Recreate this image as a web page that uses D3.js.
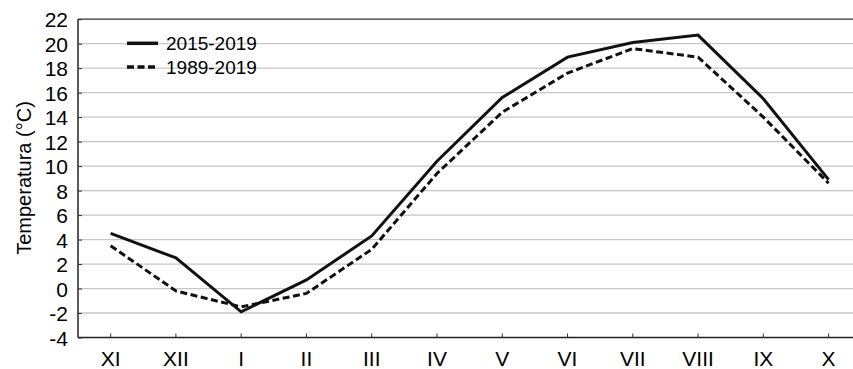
<!DOCTYPE html>
<html>
<head>
<meta charset="utf-8">
<script src="https://cdn.jsdelivr.net/npm/d3@7"></script>
<style>
  html, body { margin: 0; padding: 0; background: #fff; }
  svg { display: block; font-family: "Liberation Sans", Arial, sans-serif; }
</style>
</head>
<body>
<svg id="chart" width="853" height="369"></svg>
<script>
const months = ["XI", "XII", "I", "II", "III", "IV", "V", "VI", "VII", "VIII", "IX", "X"];
const series2015 = [4.5, 2.5, -1.9, 0.7, 4.3, 10.4, 15.6, 18.9, 20.1, 20.7, 15.5, 8.9];
const series1989 = [3.5, -0.2, -1.5, -0.4, 3.2, 9.4, 14.4, 17.6, 19.6, 18.9, 14.0, 8.6];
const yTicks = [-4, -2, 0, 2, 4, 6, 8, 10, 12, 14, 16, 18, 20, 22];
const seriesNames = ["2015-2019", "1989-2019"];

(function () {
const svg = d3.select("#chart");
const padL = 78, padT = 19.2, padB = 337.5;
const step = 65.27;
const FONT = "'Liberation Sans', Arial, sans-serif";

const x = d3.scaleBand().domain(months).range([padL, padL + step * months.length]).padding(0);
const y = d3.scaleLinear().domain([-4, 22]).range([padB, padT]);
const cx = d => x(d) + x.bandwidth() / 2;

// gridlines
svg.append("g")
  .selectAll("line")
  .data(yTicks.filter(t => t > -4 && t < 22))
  .join("line")
  .attr("x1", padL).attr("x2", 853)
  .attr("y1", d => y(d)).attr("y2", d => y(d))
  .attr("stroke", "#c6c6c6").attr("stroke-width", 1.3);

// frame: top, left, bottom
svg.append("line").attr("x1", padL).attr("x2", 853).attr("y1", y(22)).attr("y2", y(22))
  .attr("stroke", "#333").attr("stroke-width", 1.3);
svg.append("line").attr("x1", padL).attr("x2", 853).attr("y1", y(-4)).attr("y2", y(-4))
  .attr("stroke", "#222").attr("stroke-width", 1.5);
svg.append("line").attr("x1", padL).attr("x2", padL).attr("y1", y(22)).attr("y2", y(-4))
  .attr("stroke", "#222").attr("stroke-width", 1.5);

// y axis labels & ticks
const yAxis = d3.axisLeft(y).tickValues(yTicks).tickSize(-4).tickPadding(14).tickFormat(d => String(d));
const gy = svg.append("g").attr("transform", `translate(${padL},0)`).call(yAxis);
gy.select(".domain").remove();
gy.selectAll(".tick line").attr("stroke", "#333");
gy.selectAll(".tick text")
  .attr("font-size", 21).attr("fill", "#000")
  .attr("font-family", FONT)
  .attr("x", -10).attr("dy", "0.36em");

// x axis labels & ticks
const xAxis = d3.axisBottom(x).tickSize(-4).tickPadding(14);
const gx = svg.append("g").attr("transform", `translate(0,${padB})`).call(xAxis);
gx.select(".domain").remove();
gx.selectAll(".tick line").attr("stroke", "#333");
gx.selectAll(".tick text")
  .attr("font-size", 21).attr("fill", "#000")
  .attr("font-family", FONT)
  .attr("y", 21).attr("dy", "0.36em");

// y title
svg.append("text")
  .attr("transform", `translate(24,178) rotate(-90)`)
  .attr("text-anchor", "middle")
  .attr("dy", "0.36em")
  .attr("font-size", 20).attr("fill", "#000")
  .attr("font-family", FONT)
  .text("Temperatura (°C)");

// lines
const line = d3.line().x((d, i) => cx(months[i])).y(d => y(d));
svg.append("path").datum(series1989)
  .attr("d", line).attr("fill", "none")
  .attr("stroke", "#111").attr("stroke-width", 3)
  .attr("stroke-dasharray", "7,3.5").attr("stroke-linejoin", "miter");
svg.append("path").datum(series2015)
  .attr("d", line).attr("fill", "none")
  .attr("stroke", "#111").attr("stroke-width", 3).attr("stroke-linejoin", "miter");

// legend
const legend = svg.append("g");
const legendRows = [{name: seriesNames[0], dash: null, yy: 43.3}, {name: seriesNames[1], dash: "7,3.5", yy: 67}];
legendRows.forEach(r => {
  legend.append("line").attr("x1", 127).attr("x2", 158).attr("y1", r.yy).attr("y2", r.yy)
    .attr("stroke", "#111").attr("stroke-width", 3.5)
    .attr("stroke-dasharray", r.dash);
  legend.append("text").attr("x", 166).attr("y", r.yy).attr("dy", "0.36em")
    .attr("font-size", 19).attr("fill", "#000")
    .attr("font-family", FONT).text(r.name);
});
})();
</script>
</body>
</html>
